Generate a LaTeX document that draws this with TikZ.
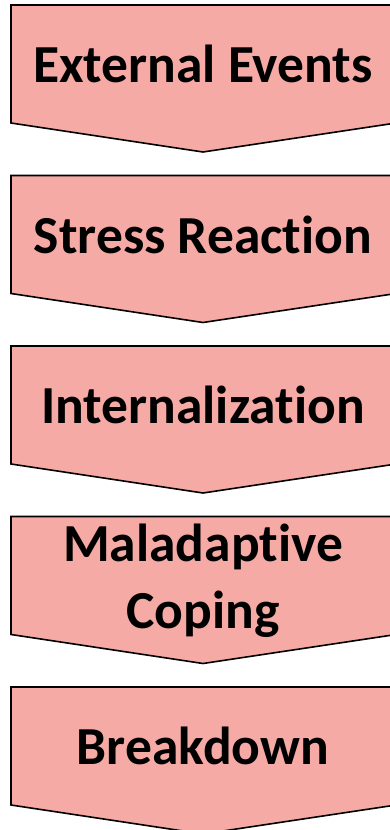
\documentclass[tikz,border=0pt]{standalone}
\usepackage{fontspec}
\setmainfont[Ligatures=NoCommon]{Carlito}
\definecolor{boxfill}{RGB}{245,170,165}
\tikzset{
  chevbox/.style={fill=boxfill, draw=black, line width=1.6pt, line join=miter},
  lbl/.style={font=\bfseries\fontsize{53.5}{67}\selectfont, align=center, inner sep=0pt, text=black}
}
\begin{document}
\begin{tikzpicture}[x=1pt,y=-1pt]
\useasboundingbox (0,0) rectangle (390,830);
\clip (0,0) rectangle (390,830);
\foreach \t/\name in {5/a,175.5/b,346/c,516.5/d,687/e}{
  \draw[chevbox] (11,\t) -- (396,\t) -- (396,\t+118) -- (203,\t+147) -- (11,\t+118) -- cycle;
}
\node[lbl] (n1) at (203,64) {External Events};
\node[lbl] (n2) at (203,234.5) {Stress Reaction};
\node[lbl] (n3) at (203,405) {Internalization};
\node[lbl] (n4) at (203,581) {Maladaptive\\Coping};
\node[lbl] (n5) at (203,746) {Breakdown};
\end{tikzpicture}
\end{document}
